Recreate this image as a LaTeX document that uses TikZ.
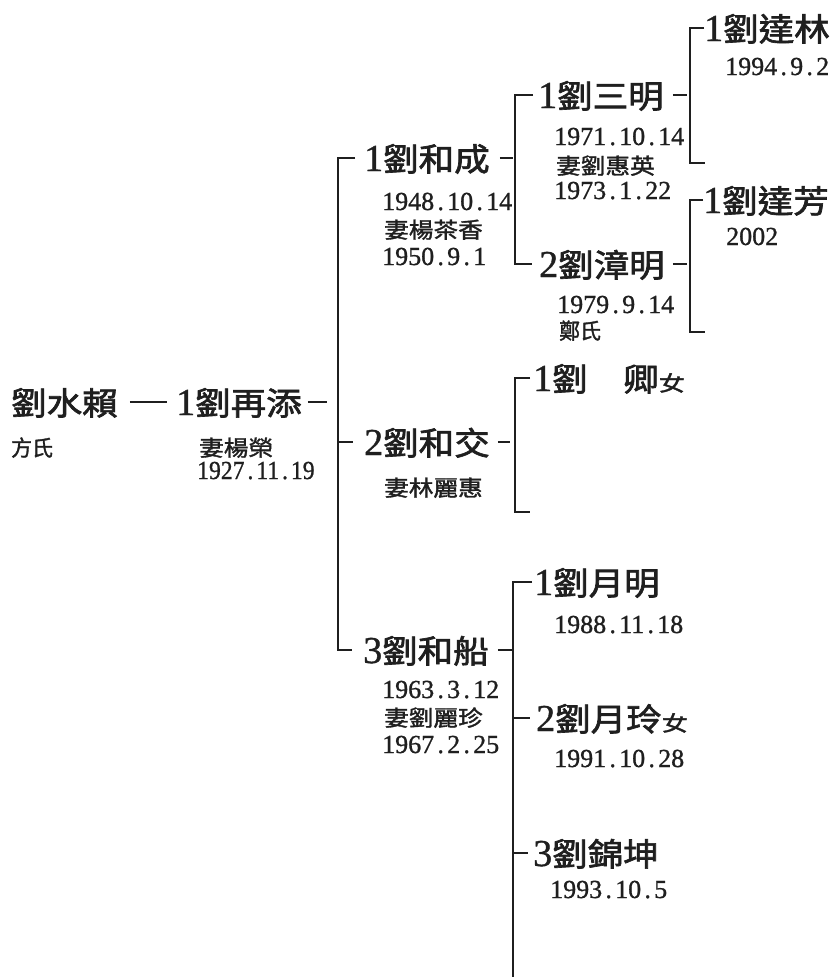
\documentclass[tikz,border=0pt]{standalone}
\usepackage{graphicx}
\usepackage{fontspec}
\newfontfamily\cjkb[FakeBold=2]{Noto Sans CJK TC}
\newfontfamily\cjk[FakeBold=1.5]{Noto Sans CJK TC}
\newfontfamily\dig[FakeBold=1]{Liberation Serif}
\definecolor{ink}{gray}{0.12}
\newcommand\nm[2]{{\dig\fontsize{38}{38}\selectfont #1}\scalebox{1.11}[1]{\cjkb\fontsize{32}{32}\selectfont #2}}
\newcommand\sm[2][1.12]{\scalebox{#1}[1]{\cjk\fontsize{22}{22}\selectfont #2}}
\newcommand\fem{\scalebox{1.25}[1]{\cjk\fontsize{21}{21}\selectfont 女}}
\newcommand\pd{\makebox[0.5em]{.}}
\newcommand\dt[1]{{\dig\fontsize{26}{26}\selectfont #1}}
\begin{document}
\begin{tikzpicture}[x=1pt,y=-1pt,
  every node/.style={inner sep=0pt, anchor=base west, text=ink},
  big/.style={text height=29pt, text depth=3pt},
  con/.style={draw=ink, line width=1.5pt}]
\useasboundingbox[fill=white] (0,0) rectangle (833,977);
% names
\node[big] (r0) at (11,415) {\nm{}{劉水賴}};
\node[big] (r1) at (176,415) {\nm{1}{劉再添}};
\node[big] (hc) at (364,171) {\nm{1}{劉和成}};
\node[big] (hj) at (364,455) {\nm{2}{劉和交}};
\node[big] (hs) at (363,663) {\nm{3}{劉和船}};
\node[big] (sm) at (538,108) {\nm{1}{劉三明}};
\node[big] (zm) at (539,277) {\nm{2}{劉漳明}};
\node[big] (dl) at (704,41) {\nm{1}{劉達林}};
\node[big] (df) at (703,213) {\nm{1}{劉達芳}};
\node[big] (qi) at (533,391) {\nm{1}{劉　卿}\fem};
\node[big] (ym) at (534,595) {\nm{1}{劉月明}};
\node[big] (yl) at (536,731) {\nm{2}{劉月玲}\fem};
\node[big] (jk) at (533,866) {\nm{3}{劉錦坤}};
% details
\node (t1) at (11,456) {\sm[0.95]{方氏}};
\node (t2) at (199,456) {\sm{妻楊榮}};
\node (t3) at (197,479) {\scalebox{0.91}[1]{\dt{1927\pd11\pd19}}};
\node (t4) at (382,210) {\dt{1948\pd10\pd14}};
\node (t5) at (384,238) {\sm{妻楊茶香}};
\node (t6) at (382,265) {\dt{1950\pd9\pd1}};
\node (t7) at (554,145) {\dt{1971\pd10\pd14}};
\node (t8) at (556,174) {\sm{妻劉惠英}};
\node (t9) at (554,199) {\dt{1973\pd1\pd22}};
\node (t10) at (725,75) {\dt{1994\pd9\pd2}};
\node (t11) at (726,245) {\dt{2002}};
\node (t12) at (557,313) {\dt{1979\pd9\pd14}};
\node (t13) at (559,339) {\sm[0.95]{鄭氏}};
\node (t14) at (384,496) {\sm{妻林麗惠}};
\node (t15) at (382,698) {\dt{1963\pd3\pd12}};
\node (t16) at (384,726) {\sm{妻劉麗珍}};
\node (t17) at (382,753) {\dt{1967\pd2\pd25}};
\node (t18) at (554,633) {\dt{1988\pd11\pd18}};
\node (t19) at (554,767) {\dt{1991\pd10\pd28}};
\node (t20) at (550,898) {\dt{1993\pd10\pd5}};
% vertical line positions and free ends
\coordinate (VA) at (338,0);
\coordinate (VB) at (515,0);
\coordinate (VC) at (690,0);
\coordinate (VE) at (515,0);
\coordinate (VF) at (513,0);
\coordinate (Cend) at (705,163);
\coordinate (Dend) at (705,332);
\coordinate (Eend) at (530,512);
\coordinate (Fend) at (513,977);
% root link
\draw[con] ([xshift=12pt]r0.east) -- ([xshift=-9pt]r1.west);
% group A
\draw[con, shorten >=11pt] ([xshift=6pt]r1.east) -- (VA |- r1.east);
\draw[con] ([xshift=-9pt]hc.west) -| (VA |- hs.west) -- ([xshift=-11pt]hs.west);
\draw[con] (VA |- hj.west) -- ([xshift=-11pt]hj.west);
% group B
\draw[con, shorten >=2pt] ([xshift=10pt]hc.east) -- (VB |- hc.east);
\draw[con] ([xshift=-5pt]sm.west) -| (VB |- zm.west) -- ([xshift=-7pt]zm.west);
% group C
\draw[con, shorten >=3pt] ([xshift=9pt]sm.east) -- (VC |- sm.east);
\draw[con] ([xshift=0pt]dl.west) -| (VC |- Cend) -- (Cend);
% group D
\draw[con, shorten >=3pt] ([xshift=8pt]zm.east) -- (VC |- zm.east);
\draw[con] ([xshift=0pt]df.west) -| (VC |- Dend) -- (Dend);
% group E
\draw[con, shorten >=5pt] ([xshift=8pt]hj.east) -- (VE |- hj.east);
\draw[con] ([xshift=-3pt]qi.west) -| (VE |- Eend) -- (Eend);
% group F
\draw[con] ([xshift=9pt]hs.east) -- (VF |- hs.east);
\draw[con] ([xshift=-2pt]ym.west) -| (Fend);
\draw[con] (VF |- yl.west) -- ([xshift=-6pt]yl.west);
\draw[con] (VF |- jk.west) -- ([xshift=-5pt]jk.west);
\end{tikzpicture}
\end{document}
